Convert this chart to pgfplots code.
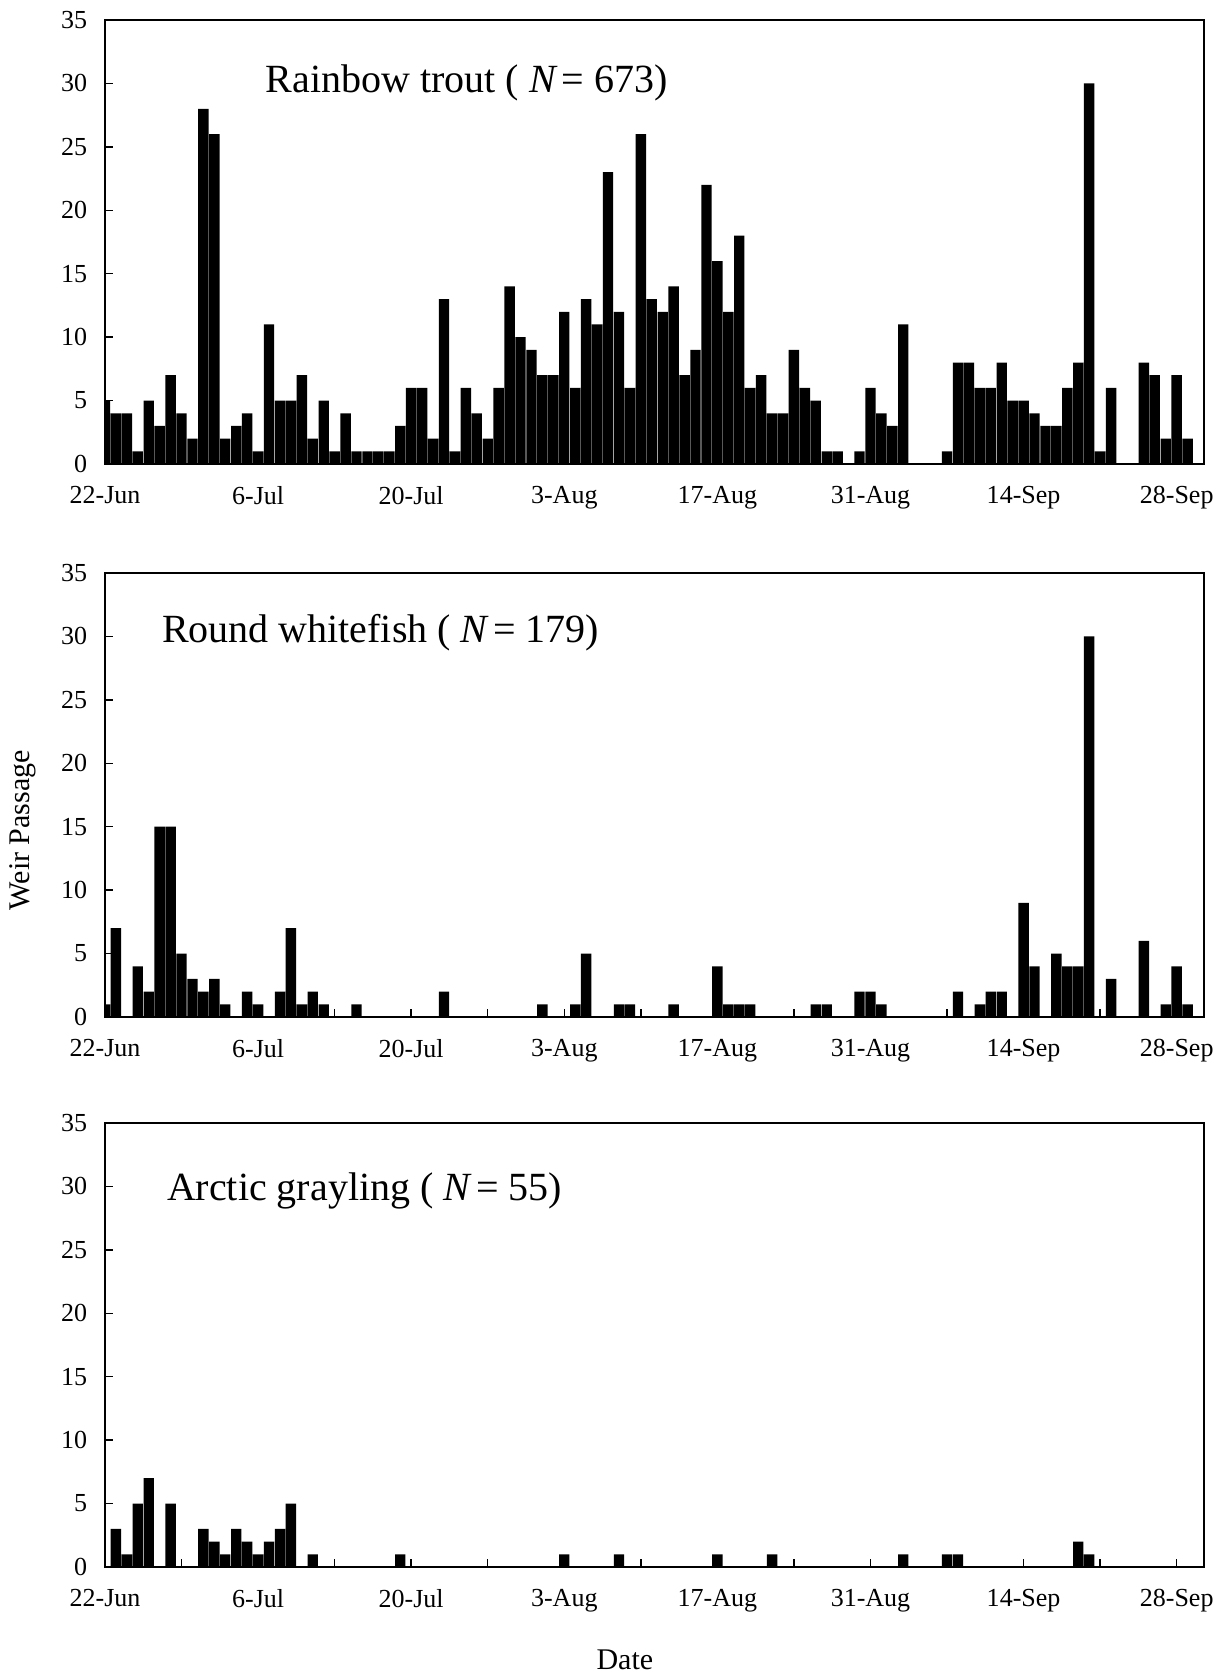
\documentclass[border=0pt]{standalone}
\usepackage{fontspec}
\setmainfont{Liberation Serif}
\usepackage{pgfplots}
\usepackage{pgfplotstable}
\pgfplotsset{compat=1.18}

% Daily weir counts; day 0 = 22-Jun, day 98 = 28-Sep
\pgfplotstableread{
day count
0 5
1 4
2 4
3 1
4 5
5 3
6 7
7 4
8 2
9 28
10 26
11 2
12 3
13 4
14 1
15 11
16 5
17 5
18 7
19 2
20 5
21 1
22 4
23 1
24 1
25 1
26 1
27 3
28 6
29 6
30 2
31 13
32 1
33 6
34 4
35 2
36 6
37 14
38 10
39 9
40 7
41 7
42 12
43 6
44 13
45 11
46 23
47 12
48 6
49 26
50 13
51 12
52 14
53 7
54 9
55 22
56 16
57 12
58 18
59 6
60 7
61 4
62 4
63 9
64 6
65 5
66 1
67 1
68 0
69 1
70 6
71 4
72 3
73 11
74 0
75 0
76 0
77 1
78 8
79 8
80 6
81 6
82 8
83 5
84 5
85 4
86 3
87 3
88 6
89 8
90 30
91 1
92 6
93 0
94 0
95 8
96 7
97 2
98 7
99 2
}\trout

\pgfplotstableread{
day count
0 1
1 7
3 4
4 2
5 15
6 15
7 5
8 3
9 2
10 3
11 1
13 2
14 1
16 2
17 7
18 1
19 2
20 1
23 1
31 2
40 1
43 1
44 5
47 1
48 1
52 1
56 4
57 1
58 1
59 1
65 1
66 1
69 2
70 2
71 1
78 2
80 1
81 2
82 2
84 9
85 4
87 5
88 4
89 4
90 30
92 3
95 6
97 1
98 4
99 1
}\whitefish

\pgfplotstableread{
day count
1 3
2 1
3 5
4 7
6 5
9 3
10 2
11 1
12 3
13 2
14 1
15 2
16 3
17 5
19 1
27 1
42 1
47 1
56 1
61 1
73 1
77 1
78 1
89 2
90 1
}\grayling

\pgfplotsset{
  weir/.style={
    ybar, bar width=0.95, bar shift=0pt,
    scale only axis, width=549.5pt, height=222pt,
    xmin=0, xmax=100.5, ymin=0, ymax=35,
    ytick={0,5,...,35},
    xtick={0,14,...,98},
    minor xtick={7,21,...,91},
    xticklabels={22-Jun,6-Jul,20-Jul,3-Aug,17-Aug,31-Aug,14-Sep,28-Sep},
    xtick pos=bottom, ytick pos=left,
    tick align=inside,
    major tick length=4pt, minor tick length=4pt,
    axis line style={line width=0.9pt},
    every tick/.append style={line width=0.7pt, black},
    every minor tick/.append style={line width=0.7pt, black},
    ticklabel style={font=\fontsize{13}{15}\selectfont},
    xticklabel style={yshift=-7.7pt},
    yticklabel style={xshift=-5.4pt},
    /pgf/number format/assume math mode=true,
    axis on top,
    clip mode=individual,
  },
  daybar/.style={fill=black, draw=none},
}
\tikzset{paneltitle/.style={anchor=west, font=\fontsize{20}{24}\selectfont}}

\begin{document}
\begin{tikzpicture}
\begin{axis}[weir, at={(0pt,0pt)}, anchor=south west]
  \addplot[daybar] table[x=day, y=count] {\trout};
  \node[paneltitle] at (axis description cs:0.140,0.858)
    {Rainbow trout ( \textit{N}\kern2pt= 673)};
\end{axis}

\begin{axis}[weir, at={(0pt,-276.5pt)}, anchor=south west]
  \addplot[daybar] table[x=day, y=count] {\whitefish};
  \node[paneltitle] at (axis description cs:0.0455,0.865)
    {Round whitefish ( \textit{N}\kern2pt= 179)};
  \node[rotate=90, font=\fontsize{15}{18}\selectfont]
    at (axis description cs:-0.0746,0.421) {Weir Passage};
\end{axis}

\begin{axis}[weir, at={(0pt,-551.5pt)}, anchor=south west]
  \addplot[daybar] table[x=day, y=count] {\grayling};
  \node[paneltitle] at (axis description cs:0.050,0.847)
    {Arctic grayling ( \textit{N}\kern2pt= 55)};
  \node[font=\fontsize{15}{18}\selectfont]
    at (axis description cs:0.473,-0.2095) {Date};
\end{axis}

\pgfresetboundingbox
\path[use as bounding box] (-52.5pt,232pt) rectangle (556.5pt,-605pt);
\end{tikzpicture}
\end{document}
